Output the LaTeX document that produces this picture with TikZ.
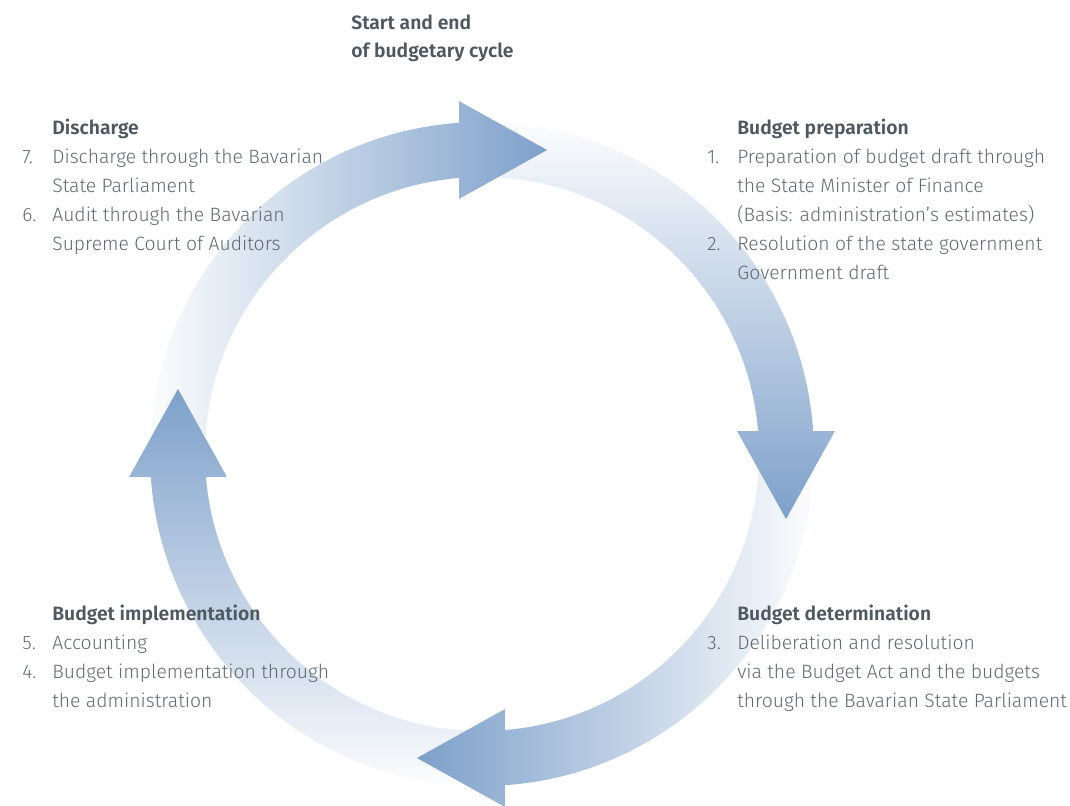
\documentclass[tikz,border=0pt]{standalone}
\usepackage{fontspec}
\setmainfont{Fira Sans Light}[BoldFont={Fira Sans SemiBold}]
\usepackage{tikz}
\usetikzlibrary{positioning}
\definecolor{cycleblue}{RGB}{125,160,202}
\colorlet{bandend}{cycleblue!79!white}
\colorlet{headbase}{cycleblue!78!white}
\definecolor{headgray}{RGB}{78,88,96}
\definecolor{bodygray}{RGB}{96,106,112}
\newcommand{\ringout}{6.64}
\newcommand{\ringin}{5.54}
\newcommand{\stepno}[1]{\llap{\makebox[0.6cm][l]{#1}}}
\tikzset{
  block/.style={anchor=base west, align=left, inner sep=0pt, text=bodygray,
    font=\fontsize{11}{16.5}\selectfont}
}

\begin{document}
\begin{tikzpicture}
\useasboundingbox (-9.64,-7.02) rectangle (11.76,9.08);
% bands of the ring, white at the start
\shade[left color=white, right color=bandend] (183.5:\ringout) arc[start angle=183.5, end angle=93.5, radius=\ringout] -- (93.5:\ringin) arc[start angle=93.5, end angle=183.5, radius=\ringin] -- cycle;
\shade[top color=white, bottom color=bandend] (93.5:\ringout) arc[start angle=93.5, end angle=3.5, radius=\ringout] -- (3.5:\ringin) arc[start angle=3.5, end angle=93.5, radius=\ringin] -- cycle;
\shade[right color=white, left color=bandend] (3.5:\ringout) arc[start angle=3.5, end angle=-86.5, radius=\ringout] -- (-86.5:\ringin) arc[start angle=-86.5, end angle=3.5, radius=\ringin] -- cycle;
\shade[bottom color=white, top color=bandend] (-86.5:\ringout) arc[start angle=-86.5, end angle=-176.5, radius=\ringout] -- (-176.5:\ringin) arc[start angle=-176.5, end angle=-86.5, radius=\ringin] -- cycle;
% arrow heads
\shade[left color=headbase, right color=cycleblue] (-0.46,7.06) -- (-0.46,5.10) -- (1.30,6.08) -- cycle;
\shade[top color=headbase, bottom color=cycleblue] (5.10,0.46) -- (7.06,0.46) -- (6.08,-1.30) -- cycle;
\shade[right color=headbase, left color=cycleblue] (0.46,-5.10) -- (0.46,-7.06) -- (-1.30,-6.08) -- cycle;
\shade[bottom color=headbase, top color=cycleblue] (-5.10,-0.46) -- (-7.06,-0.46) -- (-6.08,1.30) -- cycle;
% texts (anchored at the baseline of their last line)
\node[block, text=headgray] (start) at (-2.62,7.92) {\textbf{Start and end}\\\textbf{of budgetary cycle}};
\node[block] (discharge) at (-8.6,4.08) {\textcolor{headgray}{\textbf{Discharge}}\\
  \stepno{7.}Discharge through the Bavarian\\
  State Parliament\\
  \stepno{6.}Audit through the Bavarian\\
  Supreme Court of Auditors};
\node[block] (preparation) at (5.1,3.5) {\textcolor{headgray}{\textbf{Budget preparation}}\\
  \stepno{1.}Preparation of budget draft through\\
  the State Minister of Finance\\
  (Basis: administration's estimates)\\
  \stepno{2.}Resolution of the state government\\
  Government draft};
\node[block] (implementation) at (-8.6,-5.06) {\textcolor{headgray}{\textbf{Budget implementation}}\\
  \stepno{5.}Accounting\\
  \stepno{4.}Budget implementation through\\
  the administration};
\node[block] (determination) at (5.1,-5.06) {\textcolor{headgray}{\textbf{Budget determination}}\\
  \stepno{3.}Deliberation and resolution\\
  via the Budget Act and the budgets\\
  through the Bavarian State Parliament};
\end{tikzpicture}
\end{document}
